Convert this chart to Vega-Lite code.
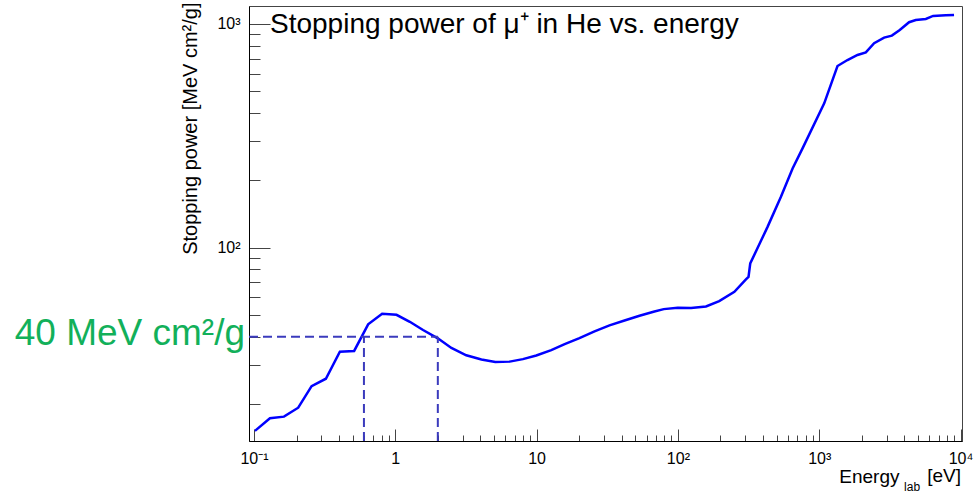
{
  "$schema": "https://vega.github.io/schema/vega-lite/v6.json",
  "width": 713,
  "height": 435,
  "autosize": {"type": "none"},
  "padding": {"left": 249, "top": 6, "right": 18, "bottom": 52},
  "background": "white",
  "title": {
    "text": "Stopping power of μ⁺ in He vs. energy",
    "anchor": "start",
    "frame": "group",
    "orient": "top",
    "baseline": "alphabetic",
    "font": "Liberation Sans",
    "fontSize": 28,
    "fontWeight": "normal",
    "color": "#000",
    "dx": 21,
    "dy": 59,
    "offset": 0
  },
  "datasets": {
    "curve": [
      {"energy": 0.1016, "sp": 15.2},
      {"energy": 0.1297, "sp": 17.3},
      {"energy": 0.163, "sp": 17.6},
      {"energy": 0.2056, "sp": 19.3},
      {"energy": 0.2557, "sp": 24.1},
      {"energy": 0.3227, "sp": 26.0},
      {"energy": 0.4053, "sp": 34.3},
      {"energy": 0.5115, "sp": 34.6},
      {"energy": 0.6425, "sp": 45.5},
      {"energy": 0.807, "sp": 50.7},
      {"energy": 1.02, "sp": 50.2},
      {"energy": 1.267, "sp": 46.7},
      {"energy": 1.572, "sp": 42.9},
      {"energy": 2.0, "sp": 39.4},
      {"energy": 2.495, "sp": 35.7},
      {"energy": 3.18, "sp": 33.1},
      {"energy": 4.07, "sp": 31.7},
      {"energy": 5.1, "sp": 30.9},
      {"energy": 6.45, "sp": 31.0},
      {"energy": 8.0, "sp": 31.8},
      {"energy": 9.95, "sp": 33.0},
      {"energy": 12.7, "sp": 34.9},
      {"energy": 15.8, "sp": 37.1},
      {"energy": 20.1, "sp": 39.5},
      {"energy": 25.7, "sp": 42.3},
      {"energy": 32.8, "sp": 45.0},
      {"energy": 41.9, "sp": 47.3},
      {"energy": 53.5, "sp": 49.7},
      {"energy": 68.2, "sp": 51.9},
      {"energy": 79.4, "sp": 53.2},
      {"energy": 99.7, "sp": 53.9},
      {"energy": 124, "sp": 53.8},
      {"energy": 158, "sp": 54.7},
      {"energy": 196, "sp": 57.8},
      {"energy": 251, "sp": 63.6},
      {"energy": 303, "sp": 72.3},
      {"energy": 316, "sp": 74.2},
      {"energy": 325, "sp": 85.1},
      {"energy": 431, "sp": 124},
      {"energy": 536, "sp": 169},
      {"energy": 648, "sp": 226},
      {"energy": 762, "sp": 278},
      {"energy": 1085, "sp": 442},
      {"energy": 1347, "sp": 649},
      {"energy": 1585, "sp": 690},
      {"energy": 1866, "sp": 727},
      {"energy": 2138, "sp": 747},
      {"energy": 2447, "sp": 820},
      {"energy": 2880, "sp": 869},
      {"energy": 3267, "sp": 887},
      {"energy": 3716, "sp": 940},
      {"energy": 4327, "sp": 1018},
      {"energy": 4822, "sp": 1042},
      {"energy": 5680, "sp": 1053},
      {"energy": 6397, "sp": 1086},
      {"energy": 7855, "sp": 1094},
      {"energy": 8999, "sp": 1097}
    ],
    "guides": [
      {"x": 0.0922, "x2": 2.0, "y": 40, "y2": 40},
      {"x": 0.6, "x2": 0.6, "y": 13.7, "y2": 40},
      {"x": 2.0, "x2": 2.0, "y": 13.7, "y2": 40}
    ],
    "label40": [
      {"x": 0.0922, "y": 40, "text": "40 MeV cm²/g"}
    ],
    "sub": [
      {"x": 4540, "y": 8.19, "text": "lab"}
    ],
    "unit": [
      {"x": 10245, "y": 8.98, "text": "[eV]"}
    ]
  },
  "layer": [
    {
      "data": {"name": "curve"},
      "mark": {"type": "line", "color": "#0000ff", "strokeWidth": 2.5, "clip": true},
      "encoding": {
        "x": {
          "field": "energy",
          "type": "quantitative",
          "scale": {"type": "log", "domain": [0.0922, 10245], "nice": false, "zero": false},
          "axis": {
            "values": [0.1, 0.2, 0.3, 0.4, 0.5, 0.6, 0.7, 0.8, 0.9, 1, 2, 3, 4, 5, 6, 7, 8, 9, 10, 20, 30, 40, 50, 60, 70, 80, 90, 100, 200, 300, 400, 500, 600, 700, 800, 900, 1000, 2000, 3000, 4000, 5000, 6000, 7000, 8000, 9000, 10000],
            "labelExpr": "datum.value == 0.1 ? '10⁻¹' : datum.value == 1 ? '1' : datum.value == 10 ? '10' : datum.value == 100 ? '10²' : datum.value == 1000 ? '10³' : datum.value == 10000 ? '10⁴' : ''",
            "tickSize": {"condition": {"test": "datum.value == 0.1 || datum.value == 1 || datum.value == 10 || datum.value == 100 || datum.value == 1000 || datum.value == 10000", "value": -12}, "value": -6},
            "tickColor": "#444",
            "tickWidth": 1,
            "domainColor": "#000",
            "domainWidth": 1,
            "labelPadding": 21,
            "labelFont": "Liberation Sans",
            "labelFontSize": 16,
            "labelColor": "#000",
            "labelFlush": false,
            "labelOverlap": false,
            "labelBound": false,
            "grid": false,
            "title": "Energy",
            "titleFont": "Liberation Sans",
            "titleFontSize": 19,
            "titleFontWeight": "normal",
            "titleColor": "#000",
            "titleAlign": "right",
            "titleAnchor": "end",
            "titleBaseline": "alphabetic",
            "titleX": 650,
            "titleY": 41
          }
        },
        "y": {
          "field": "sp",
          "type": "quantitative",
          "scale": {"type": "log", "domain": [13.7, 1203], "nice": false, "zero": false},
          "axis": {
            "values": [20, 30, 40, 50, 60, 70, 80, 90, 100, 200, 300, 400, 500, 600, 700, 800, 900, 1000],
            "labelExpr": "datum.value == 100 ? '10²' : datum.value == 1000 ? '10³' : ''",
            "tickSize": {"condition": {"test": "datum.value == 100 || datum.value == 1000", "value": -21}, "value": -11},
            "tickColor": "#444",
            "tickWidth": 1,
            "domainColor": "#000",
            "domainWidth": 1,
            "labelPadding": 30,
            "labelFont": "Liberation Sans",
            "labelFontSize": 16,
            "labelColor": "#000",
            "labelFlush": false,
            "labelOverlap": false,
            "labelBound": false,
            "grid": false,
            "title": "Stopping power [MeV cm²/g]",
            "titleFont": "Liberation Sans",
            "titleFontSize": 20,
            "titleFontWeight": "normal",
            "titleColor": "#000",
            "titleAngle": 270,
            "titleAlign": "right",
            "titleAnchor": "end",
            "titleBaseline": "alphabetic",
            "titleX": -53,
            "titleY": -4
          }
        }
      }
    },
    {
      "data": {"name": "guides"},
      "mark": {"type": "rule", "color": "#3b3bbd", "strokeWidth": 2, "strokeDash": [9, 5]},
      "encoding": {
        "x": {"field": "x", "type": "quantitative"},
        "x2": {"field": "x2"},
        "y": {"field": "y", "type": "quantitative"},
        "y2": {"field": "y2"}
      }
    },
    {
      "data": {"name": "label40"},
      "mark": {"type": "text", "align": "right", "baseline": "alphabetic", "dx": -4, "dy": 8, "font": "Liberation Sans", "fontSize": 37, "color": "#12b05a"},
      "encoding": {
        "x": {"field": "x", "type": "quantitative"},
        "y": {"field": "y", "type": "quantitative"},
        "text": {"field": "text"}
      }
    },
    {
      "data": {"name": "sub"},
      "mark": {"type": "text", "align": "center", "baseline": "alphabetic", "font": "Liberation Sans", "fontSize": 12, "color": "#000"},
      "encoding": {
        "x": {"field": "x", "type": "quantitative"},
        "y": {"field": "y", "type": "quantitative"},
        "text": {"field": "text"}
      }
    },
    {
      "data": {"name": "unit"},
      "mark": {"type": "text", "align": "right", "baseline": "alphabetic", "dx": -1, "font": "Liberation Sans", "fontSize": 19, "color": "#000"},
      "encoding": {
        "x": {"field": "x", "type": "quantitative"},
        "y": {"field": "y", "type": "quantitative"},
        "text": {"field": "text"}
      }
    }
  ],
  "config": {
    "view": {"stroke": "#444", "strokeWidth": 1},
    "font": "Liberation Sans"
  }
}
